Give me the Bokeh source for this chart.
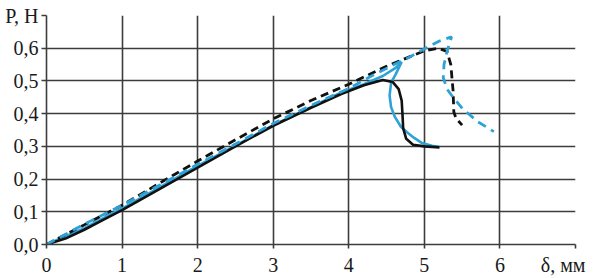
from bokeh.plotting import figure
from bokeh.models import FixedTicker, Range1d
from bokeh.embed import file_html
from bokeh.resources import INLINE

# ---- data ----
black_solid_x = [0, 0.25, 0.5, 0.75, 1.0, 1.5, 2.0, 2.5, 3.0, 3.5, 3.9, 4.2, 4.45, 4.58, 4.66, 4.70, 4.71, 4.72, 4.76, 4.85, 5.0, 5.2]
black_solid_y = [0, 0.018, 0.045, 0.075, 0.105, 0.17, 0.235, 0.30, 0.363, 0.418, 0.46, 0.487, 0.503, 0.497, 0.475, 0.44, 0.40, 0.355, 0.323, 0.305, 0.300, 0.297]

black_dash_x = [0, 0.5, 1.0, 1.5, 2.0, 2.5, 3.0, 3.5, 4.0, 4.5, 5.0, 5.18, 5.3, 5.35, 5.38, 5.39, 5.42, 5.5]
black_dash_y = [0, 0.06, 0.12, 0.188, 0.255, 0.32, 0.384, 0.44, 0.49, 0.545, 0.592, 0.600, 0.59, 0.55, 0.47, 0.405, 0.385, 0.365]

blue_solid_x = [0, 0.5, 1.0, 1.5, 2.0, 2.5, 3.0, 3.5, 3.9, 4.2, 4.45, 4.62, 4.70, 4.62, 4.56, 4.54, 4.56, 4.61, 4.69, 4.77, 4.87, 4.97, 5.1, 5.2]
blue_solid_y = [0, 0.05, 0.11, 0.175, 0.24, 0.302, 0.365, 0.42, 0.465, 0.49, 0.515, 0.54, 0.558, 0.52, 0.495, 0.455, 0.42, 0.39, 0.36, 0.343, 0.325, 0.31, 0.302, 0.298]

blue_dash_x = [0, 0.5, 1.0, 1.5, 2.0, 2.5, 3.0, 3.5, 4.0, 4.3, 4.6, 4.8, 5.0, 5.2, 5.36, 5.3, 5.26, 5.25, 5.3, 5.38, 5.51, 5.71, 5.92]
blue_dash_y = [0, 0.062, 0.12, 0.182, 0.245, 0.307, 0.37, 0.425, 0.477, 0.515, 0.55, 0.572, 0.598, 0.622, 0.635, 0.59, 0.55, 0.51, 0.475, 0.45, 0.414, 0.375, 0.345]

x_ticks = [0, 1, 2, 3, 4, 5, 6, 7]
x_tick_labels = {7: "δ, мм\u00a0\u00a0"}
y_ticks = [0.0, 0.1, 0.2, 0.3, 0.4, 0.5, 0.6, 0.7]
y_tick_labels = {0.0: "0,0", 0.1: "0,1", 0.2: "0,2", 0.3: "0,3", 0.4: "0,4", 0.5: "0,5", 0.6: "0,6", 0.7: "P, Н"}

BLACK = "#111111"
BLUE = "#2ea2d6"
GRID = "#3c3c3c"
FONT = "Liberation Serif"

p = figure(width=595, height=278, output_backend="svg", toolbar_location=None,
           x_range=Range1d(0, 7), y_range=Range1d(0, 0.7),
           min_border_left=46, min_border_right=20, min_border_top=15, min_border_bottom=29)
p.outline_line_color = None
p.background_fill_color = "white"
p.border_fill_color = "white"

for ax in (p.xaxis[0], p.yaxis[0]):
    ax.axis_line_color = GRID
    ax.axis_line_width = 1.6
    ax.major_tick_line_color = GRID
    ax.major_tick_line_width = 1.6
    ax.major_tick_in = 0
    ax.minor_tick_line_color = None
    ax.major_label_text_font = FONT
    ax.major_label_text_font_size = "20px"
    ax.major_label_text_color = "#1a1a1a"

p.xaxis.ticker = FixedTicker(ticks=x_ticks)
p.xaxis.major_label_overrides = x_tick_labels
p.xaxis.major_tick_out = 4
p.xaxis.major_label_standoff = 5
p.yaxis.ticker = FixedTicker(ticks=y_ticks)
p.yaxis.major_label_overrides = y_tick_labels
p.yaxis.major_tick_out = 5
p.yaxis.major_label_standoff = 3

p.xgrid.ticker = FixedTicker(ticks=x_ticks[1:-1])
p.ygrid.ticker = FixedTicker(ticks=y_ticks[1:])
for g in (p.xgrid[0], p.ygrid[0]):
    g.grid_line_color = GRID
    g.grid_line_width = 1.6

p.line(blue_solid_x, blue_solid_y, line_color=BLUE, line_width=2.6)
p.line(black_solid_x, black_solid_y, line_color=BLACK, line_width=2.6)
p.line(black_dash_x, black_dash_y, line_color=BLACK, line_width=2.8, line_dash="8 5")
p.line(blue_dash_x, blue_dash_y, line_color=BLUE, line_width=2.8, line_dash="9 6")

open("out.html", "w").write(file_html(p, INLINE))
